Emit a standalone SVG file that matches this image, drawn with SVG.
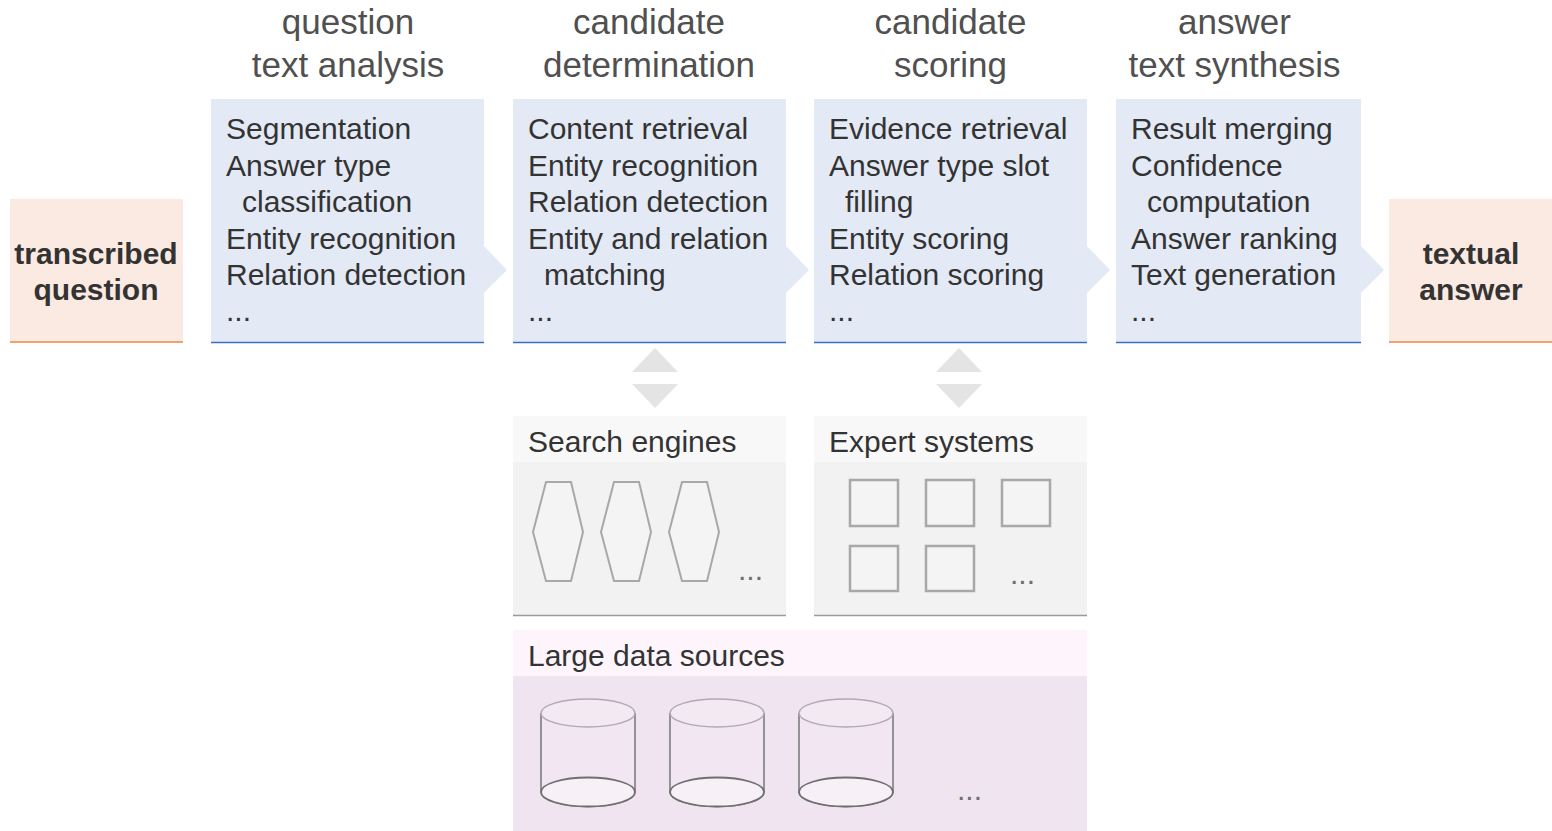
<svg xmlns="http://www.w3.org/2000/svg" width="1552" height="831" viewBox="0 0 1552 831">
<style>
text{font-family:"Liberation Sans",Arial,sans-serif}
.hdr{font-size:35px;fill:#505050;text-anchor:middle}
.bt{font-size:30px;fill:#333}
.bold{font-size:30px;font-weight:bold;fill:#333;text-anchor:middle}
.blue{fill:#e3eaf5}
.bline{stroke:#3b6fc5;stroke-width:1.5}
.org{fill:#fbeae1}
.oline{stroke:#f0a273;stroke-width:2}
.tri{fill:#e4e4e4}
.pt{font-size:30px;fill:#333}
.dots{font-size:30px;fill:#6f6f6f}
.hex{fill:#f4f4f4;stroke:#a8a8a8;stroke-width:2}
.sq{fill:#f4f4f4;stroke:#a8a8a8;stroke-width:2.5}
.cylside{fill:#f1e6f1;stroke:#777;stroke-width:1.5}
.cyltop{fill:#f3e9f3;stroke:#b4a6b4;stroke-width:1.5}
.cylbot{fill:#f7f1f7;stroke:#6f6f6f;stroke-width:1.8}
</style>

<g id="headers">
<text class="hdr" x="348" y="34">question</text>
<text class="hdr" x="348" y="77">text analysis</text>
<text class="hdr" x="649" y="34">candidate</text>
<text class="hdr" x="649" y="77">determination</text>
<text class="hdr" x="950.5" y="34">candidate</text>
<text class="hdr" x="950.5" y="77">scoring</text>
<text class="hdr" x="1234.5" y="34">answer</text>
<text class="hdr" x="1234.5" y="77">text synthesis</text>
</g>

<g id="connectors">
<polygon class="blue" points="484,246 507,270 484,293"/>
<polygon class="blue" points="786,246 809,270 786,293"/>
<polygon class="blue" points="1087,246 1110,270 1087,293"/>
<polygon class="blue" points="1361,246 1384,270 1361,293"/>
<polygon class="tri" points="655,348 678,372 632,372"/>
<polygon class="tri" points="632,384 678,384 655,408"/>
<polygon class="tri" points="959,348 982,372 936,372"/>
<polygon class="tri" points="936,384 982,384 959,408"/>
</g>

<g id="transcribed-question">
<rect class="org" x="10" y="199" width="173" height="144"/>
<line class="oline" x1="10" y1="342" x2="183" y2="342"/>
<text class="bold" x="96" y="264">transcribed</text>
<text class="bold" x="96" y="300">question</text>
</g>

<g id="question-text-analysis">
<rect class="blue" x="211" y="99" width="273" height="244"/>
<line class="bline" x1="211" y1="342.5" x2="484" y2="342.5"/>
<text class="bt" x="226" y="139">Segmentation</text>
<text class="bt" x="226" y="175.5">Answer type</text>
<text class="bt" x="242" y="212">classification</text>
<text class="bt" x="226" y="248.5">Entity recognition</text>
<text class="bt" x="226" y="285">Relation detection</text>
<text class="bt" x="226" y="321">...</text>
</g>

<g id="candidate-determination">
<rect class="blue" x="513" y="99" width="273" height="244"/>
<line class="bline" x1="513" y1="342.5" x2="786" y2="342.5"/>
<text class="bt" x="528" y="139">Content retrieval</text>
<text class="bt" x="528" y="175.5">Entity recognition</text>
<text class="bt" x="528" y="212">Relation detection</text>
<text class="bt" x="528" y="248.5">Entity and relation</text>
<text class="bt" x="544" y="285">matching</text>
<text class="bt" x="528" y="321">...</text>
</g>

<g id="candidate-scoring">
<rect class="blue" x="814" y="99" width="273" height="244"/>
<line class="bline" x1="814" y1="342.5" x2="1087" y2="342.5"/>
<text class="bt" x="829" y="139">Evidence retrieval</text>
<text class="bt" x="829" y="175.5">Answer type slot</text>
<text class="bt" x="845" y="212">filling</text>
<text class="bt" x="829" y="248.5">Entity scoring</text>
<text class="bt" x="829" y="285">Relation scoring</text>
<text class="bt" x="829" y="321">...</text>
</g>

<g id="answer-text-synthesis">
<rect class="blue" x="1116" y="99" width="245" height="244"/>
<line class="bline" x1="1116" y1="342.5" x2="1361" y2="342.5"/>
<text class="bt" x="1131" y="139">Result merging</text>
<text class="bt" x="1131" y="175.5">Confidence</text>
<text class="bt" x="1147" y="212">computation</text>
<text class="bt" x="1131" y="248.5">Answer ranking</text>
<text class="bt" x="1131" y="285">Text generation</text>
<text class="bt" x="1131" y="321">...</text>
</g>

<g id="textual-answer">
<rect class="org" x="1389" y="199" width="163" height="144"/>
<line class="oline" x1="1389" y1="342" x2="1552" y2="342"/>
<text class="bold" x="1471" y="264">textual</text>
<text class="bold" x="1471" y="300">answer</text>
</g>

<g id="search-engines">
<rect x="513" y="416" width="273" height="46" fill="#f8f8f8"/>
<rect x="513" y="462" width="273" height="154" fill="#f2f2f2"/>
<line x1="513" y1="615.5" x2="786" y2="615.5" stroke="#9a9a9a" stroke-width="1.5"/>
<text class="pt" x="528" y="452">Search engines</text>
<polygon class="hex" points="546,482 571,482 583,532 571,581 546,581 533,532"/>
<polygon class="hex" points="614,482 639,482 651,532 639,581 614,581 601,532"/>
<polygon class="hex" points="682,482 707,482 719,532 707,581 682,581 669,532"/>
<text class="dots" x="738" y="580">...</text>
</g>

<g id="expert-systems">
<rect x="814" y="416" width="273" height="46" fill="#f8f8f8"/>
<rect x="814" y="462" width="273" height="154" fill="#f2f2f2"/>
<line x1="814" y1="615.5" x2="1087" y2="615.5" stroke="#9a9a9a" stroke-width="1.5"/>
<text class="pt" x="829" y="452">Expert systems</text>
<rect class="sq" x="850" y="480" width="48" height="46"/>
<rect class="sq" x="926" y="480" width="48" height="46"/>
<rect class="sq" x="1002" y="480" width="48" height="46"/>
<rect class="sq" x="850" y="546" width="48" height="45"/>
<rect class="sq" x="926" y="546" width="48" height="45"/>
<text class="dots" x="1010" y="584">...</text>
</g>

<g id="large-data-sources">
<rect x="513" y="630" width="574" height="46" fill="#fdf5fb"/>
<rect x="513" y="676" width="574" height="155" fill="#f0e4f0"/>
<text class="pt" x="528" y="666">Large data sources</text>
<g>
<path class="cylside" d="M541,713 L541,792 A47,14.5 0 0 0 635,792 L635,713"/>
<ellipse class="cylbot" cx="588" cy="792" rx="47" ry="14.5"/>
<ellipse class="cyltop" cx="588" cy="713" rx="47" ry="14"/>
</g>
<g>
<path class="cylside" d="M670,713 L670,792 A47,14.5 0 0 0 764,792 L764,713"/>
<ellipse class="cylbot" cx="717" cy="792" rx="47" ry="14.5"/>
<ellipse class="cyltop" cx="717" cy="713" rx="47" ry="14"/>
</g>
<g>
<path class="cylside" d="M799,713 L799,792 A47,14.5 0 0 0 893,792 L893,713"/>
<ellipse class="cylbot" cx="846" cy="792" rx="47" ry="14.5"/>
<ellipse class="cyltop" cx="846" cy="713" rx="47" ry="14"/>
</g>
<text class="dots" x="957" y="800">...</text>
</g>
</svg>
